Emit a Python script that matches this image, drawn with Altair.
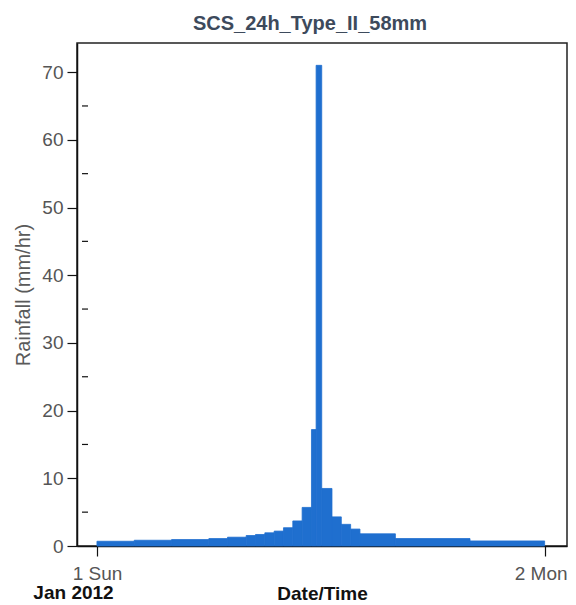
import altair as alt
import pandas as pd

# ---- data (hours from 1 Jan 2012 00:00, rainfall in mm/hr) ----
hour_start = [0, 2, 4, 6, 7, 8, 8.5, 9, 9.5, 10, 10.5, 11, 11.5, 11.75, 12.05, 12.6, 13.1, 13.6, 14.1, 16, 20]
hour_end = [2, 4, 6, 7, 8, 8.5, 9, 9.5, 10, 10.5, 11, 11.5, 11.75, 12.05, 12.6, 13.1, 13.6, 14.1, 16, 20, 24]
rainfall = [0.7, 0.85, 0.95, 1.1, 1.3, 1.55, 1.7, 1.95, 2.2, 2.7, 3.7, 5.7, 17.2, 71.0, 8.5, 4.3, 3.2, 2.5, 1.8, 1.1, 0.75]

y_major_ticks = [0, 10, 20, 30, 40, 50, 60, 70]
y_minor_ticks = [5, 15, 25, 35, 45, 55, 65]
x_tick_hours = [0, 24]
x_tick_labels = ["1 Sun", "2 Mon"]
month_label = ["Jan 2012"]
chart_title = "SCS_24h_Type_II_58mm"

df = pd.DataFrame({"start": hour_start, "end": hour_end, "rain": rainfall})
minor_df = pd.DataFrame({"rain": y_minor_ticks})
month_df = pd.DataFrame({"t": month_label})

label_expr = " : ".join(
    [f"datum.value == {h} ? '{l}'" for h, l in zip(x_tick_hours[:-1], x_tick_labels[:-1])]
    + [f"'{x_tick_labels[-1]}'"]
)

FONT = "Liberation Sans"
W, H = 490, 503
xscale = alt.Scale(domain=[-1.07, 25.2], nice=False, zero=False)
yscale = alt.Scale(domain=[0, 74.3], nice=False)

yaxis = alt.Axis(
    values=y_major_ticks,
    title="Rainfall (mm/hr)",
    grid=False,
    labelPadding=4,
    titlePadding=8,
    titleFontWeight="normal",
    titleColor="#5a5a5a",
    titleFontSize=20,
    titleFont=FONT,
)

bars = alt.Chart(df).mark_rect(color="#1f6fcf", stroke="#1f6fcf", strokeWidth=0.8).encode(
    x=alt.X(
        "start:Q",
        scale=xscale,
        axis=alt.Axis(
            values=x_tick_hours,
            labelExpr=label_expr,
            labelOffset={"condition": {"test": f"datum.value == {x_tick_hours[-1]}", "value": -4}, "value": 0},
            title="Date/Time",
            grid=False,
            labelPadding=8,
            titlePadding=1,
            titleFontWeight="bold",
            titleColor="#111111",
            titleFontSize=19,
            titleFont=FONT,
        ),
    ),
    x2="end:Q",
    y=alt.Y("rain:Q", scale=yscale, axis=yaxis),
    y2=alt.datum(0),
)

minor = alt.Chart(minor_df).mark_rule(color="#111111", strokeWidth=1.2).encode(
    y=alt.Y("rain:Q", scale=yscale, axis=yaxis),
    x=alt.value(5),
    x2=alt.value(11),
)

month = alt.Chart(month_df).mark_text(
    font=FONT, fontSize=19, fontWeight="bold", color="#111111", align="center", baseline="middle"
).encode(text="t:N", x=alt.value(-3.5), y=alt.value(550))

chart = (
    alt.layer(bars, minor, month)
    .properties(
        width=W,
        height=H,
        padding={"left": 69, "top": 35, "right": 1, "bottom": 59},
        autosize=alt.AutoSizeParams(type="none"),
        title=alt.TitleParams(
            chart_title,
            font=FONT,
            fontSize=20,
            fontWeight="bold",
            color="#3d4a5c",
            anchor="middle",
            dx=-12,
            offset=9,
        ),
    )
    .configure_view(stroke="#222222", strokeWidth=1.5)
    .configure_axis(
        domainColor="#111111",
        domainWidth=1.5,
        tickColor="#111111",
        tickWidth=1.2,
        tickSize=10,
        labelColor="#555555",
        labelFont=FONT,
        labelFontSize=19,
    )
)

chart.save("out.html", embed_options={"renderer": "svg", "actions": False})
